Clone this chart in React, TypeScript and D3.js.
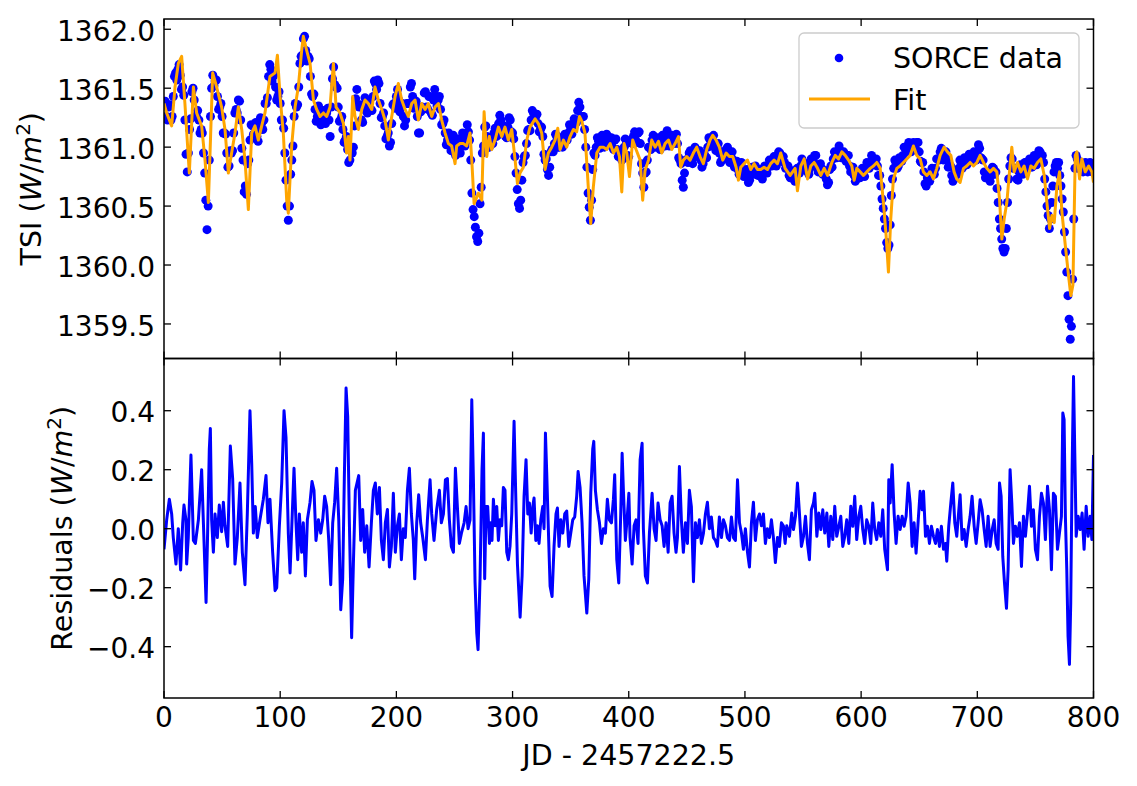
import React from 'react';
import * as d3 from 'd3';

const xTicks = [0, 100, 200, 300, 400, 500, 600, 700, 800];
const tsiTicks = [1359.5, 1360.0, 1360.5, 1361.0, 1361.5, 1362.0];
const resTicks = [-0.4, -0.2, 0.0, 0.2, 0.4];

// SORCE daily TSI (day, W/m^2) — even days / dips
const tsiData: [number, number][] = [
  [0,1361.37],[2,1361.26],[4,1361.34],[6,1361.23],[8,1361.43],[10,1361.63],[12,1361.66],[14,1361.61],[16,1361.51],[18,1361.23],
  [20,1360.79],[21,1360.95],[22,1361.15],[24,1361.47],[26,1361.40],[28,1361.26],[30,1361.23],[32,1361.15],[34,1360.95],[35,1360.78],
  [36,1360.55],[37,1360.30],[38,1360.50],[39,1360.89],[40,1361.26],[42,1361.61],[44,1361.56],[46,1361.43],[48,1361.34],[50,1361.26],
  [52,1361.12],[54,1360.95],[56,1360.84],[58,1360.95],[60,1361.12],[62,1361.32],[64,1361.40],[66,1361.23],[68,1360.89],[70,1360.67],
  [72,1360.86],[74,1361.06],[76,1361.18],[78,1361.18],[80,1361.09],[82,1361.15],[84,1361.20],[86,1361.23],[88,1361.37],[90,1361.60],
  [92,1361.66],[94,1361.60],[96,1361.51],[98,1361.43],[100,1361.37],[102,1361.23],[104,1360.95],[105,1360.72],[106,1360.50],[107,1360.38],
  [108,1360.50],[110,1360.89],[112,1361.26],[114,1361.34],[116,1361.51],[118,1361.77],[120,1361.92],[122,1361.82],[124,1361.77],[126,1361.60],
  [128,1361.43],[130,1361.32],[132,1361.26],[134,1361.29],[136,1361.23],[138,1361.26],[140,1361.29],[142,1361.23],[143,1361.09],[144,1361.34],
  [146,1361.68],[148,1361.51],[150,1361.34],[152,1361.23],[154,1361.15],[156,1361.06],[158,1360.98],[160,1360.89],[162,1360.95],[164,1361.18],
  [166,1361.49],[168,1361.34],[170,1361.23],[172,1361.32],[174,1361.37],[176,1361.34],[178,1361.32],[180,1361.43],[182,1361.54],[184,1361.57],
  [186,1361.37],[188,1361.26],[190,1361.18],[192,1361.09],[194,1361.01],[196,1361.20],[198,1361.37],[200,1361.43],[202,1361.40],[204,1361.34],
  [206,1361.26],[208,1361.23],[210,1361.37],[212,1361.51],[214,1361.43],[216,1361.37],[218,1361.26],[220,1361.12],[222,1361.34],[224,1361.46],
  [226,1361.34],[228,1361.43],[230,1361.29],[232,1361.40],[234,1361.43],[236,1361.40],[238,1361.32],[240,1361.20],[242,1361.12],[244,1361.06],
  [246,1361.03],[248,1361.06],[250,1361.01],[252,1360.98],[254,1361.01],[256,1361.03],[258,1361.06],[260,1361.10],[262,1361.13],[263,1361.06],
  [264,1360.89],[265,1360.61],[266,1360.47],[267,1360.41],[268,1360.32],[269,1360.24],[270,1360.20],[271,1360.27],[272,1360.52],[273,1360.66],
  [274,1360.95],[276,1361.17],[278,1361.09],[280,1361.00],[282,1361.03],[284,1361.12],[286,1361.09],[288,1361.20],[290,1361.23],[292,1361.17],
  [294,1361.09],[296,1361.17],[298,1361.23],[300,1361.12],[302,1360.92],[303,1360.78],[304,1360.64],[305,1360.52],[306,1360.48],[307,1360.55],
  [308,1360.72],[310,1360.92],[312,1361.03],[314,1361.15],[316,1361.23],[318,1361.29],[320,1361.26],[322,1361.20],[324,1361.15],[326,1361.09],
  [328,1360.89],[330,1360.81],[331,1360.76],[332,1360.83],[334,1360.98],[336,1361.03],[338,1361.09],[340,1361.00],[342,1361.06],[344,1361.03],
  [346,1361.09],[348,1361.12],[350,1361.15],[352,1361.17],[354,1361.20],[356,1361.31],[358,1361.34],[360,1361.26],[362,1361.15],[363,1361.00],
  [364,1360.83],[365,1360.61],[366,1360.49],[367,1360.38],[368,1360.55],[369,1360.81],[370,1360.95],[372,1361.00],[374,1361.05],[376,1361.03],
  [378,1361.06],[380,1361.03],[382,1361.09],[384,1361.06],[386,1361.00],[388,1361.06],[390,1360.98],[392,1360.95],[394,1360.89],[396,1361.00],
  [398,1361.03],[400,1360.92],[402,1361.06],[404,1361.09],[406,1361.06],[408,1361.12],[410,1361.03],[412,1360.78],[413,1360.66],[414,1360.78],
  [416,1360.89],[418,1361.00],[420,1361.06],[422,1361.03],[424,1361.06],[426,1361.00],[428,1361.06],[430,1361.03],[432,1361.09],[434,1361.09],
  [436,1361.03],[438,1361.06],[440,1361.09],[442,1361.03],[444,1360.89],[446,1360.72],[447,1360.66],[448,1360.78],[450,1360.89],[452,1360.95],
  [454,1360.89],[456,1360.92],[458,1360.98],[460,1360.95],[462,1360.89],[464,1360.86],[466,1360.92],[468,1361.00],[470,1361.06],[472,1361.06],
  [474,1361.03],[476,1361.00],[478,1360.95],[480,1360.89],[482,1360.92],[484,1360.98],[486,1360.92],[488,1360.92],[490,1360.89],[492,1360.86],
  [494,1360.81],[496,1360.83],[498,1360.81],[500,1360.78],[502,1360.75],[504,1360.72],[506,1360.83],[508,1360.78],[510,1360.81],[512,1360.78],
  [514,1360.75],[516,1360.78],[518,1360.81],[520,1360.83],[522,1360.86],[524,1360.89],[526,1360.86],[528,1360.89],[530,1360.95],[532,1360.89],
  [534,1360.87],[536,1360.84],[538,1360.76],[540,1360.79],[542,1360.73],[544,1360.76],[546,1360.79],[548,1360.84],[550,1360.87],[552,1360.84],
  [554,1360.79],[556,1360.82],[558,1360.90],[560,1360.93],[562,1360.84],[564,1360.82],[566,1360.82],[568,1360.79],[570,1360.73],[572,1360.70],
  [574,1360.84],[576,1360.90],[578,1360.93],[580,1360.96],[582,1360.97],[584,1360.93],[586,1360.90],[588,1360.93],[590,1360.84],[592,1360.82],
  [594,1360.76],[596,1360.73],[598,1360.76],[600,1360.79],[602,1360.76],[604,1360.82],[606,1360.84],[608,1360.87],[610,1360.90],[612,1360.87],
  [614,1360.84],[616,1360.76],[617,1360.67],[618,1360.56],[619,1360.48],[620,1360.39],[621,1360.31],[622,1360.19],[623,1360.14],[624,1360.17],
  [625,1360.34],[626,1360.59],[627,1360.73],[628,1360.82],[630,1360.87],[632,1360.84],[634,1360.90],[636,1360.93],[638,1360.99],[640,1361.01],
  [642,1360.99],[644,1361.01],[646,1360.99],[648,1361.04],[650,1360.96],[652,1360.87],[654,1360.79],[656,1360.67],[658,1360.73],[660,1360.76],
  [662,1360.79],[664,1360.82],[666,1360.90],[668,1360.96],[670,1360.93],[672,1360.93],[674,1360.90],[676,1360.84],[678,1360.76],[680,1360.73],
  [682,1360.79],[684,1360.82],[686,1360.87],[688,1360.84],[690,1360.90],[692,1360.87],[694,1360.93],[696,1360.93],[698,1360.90],[700,1360.96],
  [702,1360.99],[704,1360.90],[706,1360.79],[708,1360.76],[710,1360.73],[712,1360.76],[714,1360.82],[716,1360.79],[717,1360.65],[718,1360.53],
  [719,1360.39],[720,1360.31],[721,1360.22],[722,1360.14],[723,1360.11],[724,1360.14],[725,1360.31],[726,1360.53],[727,1360.73],[728,1360.84],
  [730,1360.90],[732,1360.82],[734,1360.73],[736,1360.79],[738,1360.82],[740,1360.79],[742,1360.87],[744,1360.87],[746,1360.84],[748,1360.90],
  [750,1360.87],[752,1360.90],[754,1360.96],[756,1360.93],[758,1360.73],[759,1360.62],[760,1360.50],[761,1360.42],[762,1360.31],[763,1360.39],
  [764,1360.53],[765,1360.67],[766,1360.79],[767,1360.84],[768,1360.87],[769,1360.82],[770,1360.87],[771,1360.76],[772,1360.67],[773,1360.56],
  [774,1360.45],[775,1360.28],[776,1360.11],[777,1359.94],[778,1359.74],[779,1359.54],[780,1359.37],[781,1359.48],[782,1359.88],[783,1360.39],
  [784,1360.82],[785,1360.93],[786,1360.90],[788,1360.82],[790,1360.84],[792,1360.82],[794,1360.84],[796,1360.82],[798,1360.84],[800,1360.82]
];

// SORCE daily TSI, remaining (odd) days — the scatter of the band
const tsiDataOdd: [number, number][] = [
  [1,1361.39],[3,1361.23],[5,1361.36],[7,1361.26],[9,1361.60],[11,1361.57],[13,1361.70],[15,1361.49],[17,1361.44],[19,1360.94],
  [23,1361.24],[25,1361.50],[27,1361.26],[29,1361.31],[31,1361.12],[33,1361.12],[41,1361.50],[43,1361.52],[45,1361.57],[47,1361.32],
  [49,1361.37],[51,1361.12],[53,1361.11],[55,1360.83],[57,1360.97],[59,1360.97],[61,1361.29],[63,1361.29],[65,1361.39],[67,1360.99],
  [69,1360.62],[71,1360.60],[73,1360.89],[75,1361.19],[77,1361.11],[79,1361.21],[81,1361.05],[83,1361.25],[85,1361.15],[87,1361.37],
  [89,1361.42],[91,1361.70],[93,1361.56],[95,1361.63],[97,1361.40],[99,1361.47],[101,1361.23],[103,1361.16],[109,1360.77],[111,1361.01],
  [113,1361.37],[115,1361.36],[117,1361.71],[119,1361.78],[121,1361.94],[123,1361.73],[125,1361.75],[127,1361.45],[129,1361.45],[131,1361.22],
  [133,1361.35],[135,1361.19],[137,1361.31],[139,1361.20],[141,1361.33],[145,1361.58],[147,1361.53],[149,1361.50],[151,1361.22],[153,1361.26],
  [155,1361.04],[157,1361.09],[159,1360.87],[161,1360.99],[163,1361.00],[165,1361.41],[167,1361.35],[169,1361.36],[171,1361.21],[173,1361.42],
  [175,1361.29],[177,1361.40],[179,1361.31],[181,1361.56],[183,1361.49],[185,1361.54],[187,1361.25],[189,1361.29],[191,1361.07],[193,1361.12],
  [195,1361.04],[197,1361.36],[199,1361.33],[201,1361.49],[203,1361.30],[205,1361.37],[207,1361.18],[209,1361.37],[211,1361.37],[213,1361.54],
  [215,1361.33],[217,1361.39],[219,1361.12],[221,1361.30],[223,1361.33],[225,1361.47],[227,1361.32],[229,1361.43],[231,1361.27],[233,1361.49],
  [235,1361.35],[237,1361.43],[239,1361.19],[241,1361.23],[243,1361.02],[245,1361.12],[247,1360.97],[249,1361.10],[251,1360.93],[253,1361.07],
  [255,1360.95],[257,1361.12],[259,1361.01],[261,1361.19],[275,1361.01],[277,1361.18],[279,1361.00],[281,1361.07],[283,1361.03],[285,1361.16],
  [287,1361.10],[289,1361.27],[291,1361.15],[293,1361.18],[295,1361.08],[297,1361.25],[299,1361.13],[301,1361.07],[309,1360.87],[311,1360.93],
  [313,1361.14],[315,1361.14],[317,1361.31],[319,1361.23],[321,1361.28],[323,1361.13],[325,1361.17],[327,1360.94],[329,1360.90],[333,1360.96],
  [335,1360.96],[337,1361.11],[339,1361.00],[341,1361.08],[343,1361.00],[345,1361.11],[347,1361.06],[349,1361.19],[351,1361.11],[353,1361.24],
  [355,1361.21],[357,1361.38],[359,1361.25],[361,1361.26],[371,1360.93],[373,1361.08],[375,1360.99],[377,1361.10],[379,1361.00],[381,1361.11],
  [383,1361.03],[385,1361.08],[387,1360.98],[389,1361.07],[391,1360.92],[393,1360.97],[395,1360.90],[397,1361.07],[399,1360.93],[401,1361.04],
  [403,1361.03],[405,1361.13],[407,1361.04],[409,1361.13],[411,1360.86],[415,1360.79],[417,1361.00],[419,1360.98],[421,1361.10],[423,1361.00],
  [425,1361.08],[427,1360.98],[429,1361.10],[431,1361.01],[433,1361.14],[435,1361.01],[437,1361.10],[439,1361.03],[441,1361.11],[443,1360.91],
  [445,1360.86],[449,1360.89],[451,1360.87],[453,1360.97],[455,1360.86],[457,1361.00],[459,1360.92],[461,1360.97],[463,1360.83],[465,1360.94],
  [467,1360.91],[469,1361.08],[471,1361.01],[473,1361.10],[475,1360.97],[477,1361.03],[479,1360.87],[481,1360.96],[483,1360.90],[485,1361.00],
  [487,1360.87],[489,1360.96],[491,1360.83],[493,1360.88],[495,1360.77],[497,1360.87],[499,1360.75],[501,1360.81],[503,1360.70],[505,1360.82],
  [507,1360.77],[509,1360.84],[511,1360.76],[513,1360.81],[515,1360.73],[517,1360.84],[519,1360.78],[521,1360.89],[523,1360.84],[525,1360.92],
  [527,1360.84],[529,1360.96],[531,1360.88],[533,1360.92],[535,1360.82],[537,1360.84],[539,1360.74],[541,1360.80],[543,1360.71],[545,1360.82],
  [547,1360.78],[549,1360.90],[551,1360.82],[553,1360.86],[555,1360.77],[557,1360.90],[559,1360.88],[561,1360.93],[563,1360.79],[565,1360.86],
  [567,1360.77],[569,1360.80],[571,1360.68],[573,1360.81],[575,1360.83],[577,1360.96],[579,1360.91],[581,1361.01],[583,1360.91],[585,1360.96],
  [587,1360.88],[589,1360.93],[591,1360.79],[593,1360.83],[595,1360.71],[597,1360.78],[599,1360.74],[601,1360.82],[603,1360.75],[605,1360.87],
  [607,1360.82],[609,1360.93],[611,1360.85],[613,1360.90],[615,1360.76],[629,1360.89],[631,1360.82],[633,1360.91],[635,1360.88],[637,1361.00],
  [639,1360.96],[641,1361.04],[643,1360.96],[645,1361.04],[647,1360.98],[649,1361.04],[651,1360.88],[653,1360.87],[655,1360.69],[657,1360.74],
  [659,1360.71],[661,1360.82],[663,1360.77],[665,1360.90],[667,1360.89],[669,1360.99],[671,1360.89],[673,1360.96],[675,1360.83],[677,1360.84],
  [679,1360.71],[681,1360.80],[683,1360.77],[685,1360.89],[687,1360.82],[689,1360.91],[691,1360.85],[693,1360.94],[695,1360.89],[697,1360.96],
  [699,1360.89],[701,1361.02],[703,1360.91],[705,1360.89],[707,1360.74],[709,1360.79],[711,1360.71],[713,1360.83],[715,1360.77],[729,1360.91],
  [731,1360.82],[733,1360.82],[735,1360.72],[737,1360.85],[739,1360.77],[741,1360.87],[743,1360.83],[745,1360.90],[747,1360.83],[749,1360.93],
  [751,1360.85],[753,1360.97],[755,1360.91],[757,1360.87],[787,1360.82],[789,1360.87],[791,1360.79],[793,1360.87],[795,1360.79],[797,1360.87],
  [799,1360.79]
];

// Model fit (day, W/m^2)
const fitCurve: [number, number][] = [
  [0,1361.37],[2.3,1361.29],[6.6,1361.18],[9.5,1361.51],[12.3,1361.71],[15.2,1361.77],[18,1361.37],[21.8,1360.78],[25.3,1361.51],[28.1,1361.29],
  [32.4,1361.18],[35.3,1360.89],[38.2,1360.53],[41.9,1361.63],[45.3,1361.51],[49.6,1361.34],[52.5,1361.15],[55.4,1360.78],[58.2,1360.95],[61.1,1361.12],
  [64,1361.34],[66.9,1361.15],[69.7,1360.89],[72.6,1360.47],[75.5,1361.12],[78.3,1361.18],[81.2,1361.06],[84.1,1361.18],[86.9,1361.29],[91.2,1361.6],
  [95.6,1361.63],[97.6,1361.78],[99.9,1361.43],[102.7,1361.12],[105.6,1360.55],[107,1360.44],[109.9,1361.01],[112.8,1361.34],[115.6,1361.51],[118.5,1361.82],
  [119.9,1361.94],[122.8,1361.82],[125.7,1361.71],[128.6,1361.4],[131.4,1361.32],[134.3,1361.26],[137.2,1361.29],[140,1361.26],[142.9,1361.34],[145.8,1361.71],
  [148.1,1361.34],[151.5,1361.29],[154.4,1361.2],[157.2,1360.95],[158.7,1361.09],[160.1,1360.89],[162.4,1361.43],[164.4,1361.26],[167.3,1361.15],[170.2,1361.32],
  [173,1361.4],[175.9,1361.37],[178.8,1361.32],[181.6,1361.51],[184.5,1361.4],[187.4,1361.32],[190.2,1361.23],[193.1,1361.06],[196,1361.26],[198.9,1361.43],
  [201.7,1361.54],[204.6,1361.4],[207.5,1361.32],[210.3,1361.26],[213.2,1361.37],[216.1,1361.4],[218.9,1361.23],[221.8,1361.37],[224.7,1361.32],[227.5,1361.37],
  [230.4,1361.26],[233.3,1361.34],[236.2,1361.37],[239,1361.23],[241.9,1361.12],[244.8,1361.03],[247.6,1361.01],[250.5,1360.86],[251.9,1361.01],[254.8,1361.03],
  [257.7,1361.03],[260.5,1361.01],[263.4,1361.12],[264.9,1360.89],[266.9,1360.52],[270.6,1360.61],[273.5,1360.55],[275.5,1361.3],[277.8,1360.92],[280,1361.09],
  [282,1360.98],[284.9,1361.06],[287.8,1361.17],[290.7,1361.09],[293.5,1361.17],[296.4,1361.06],[299.3,1361.15],[302.2,1360.89],[304.2,1360.69],[306.4,1360.78],
  [309.3,1360.83],[312.2,1361.06],[315,1361.17],[319.4,1361.24],[322.2,1361.2],[325.1,1361.12],[328,1360.81],[330.8,1360.95],[333.7,1361.0],[336.6,1361.06],
  [338.9,1361.16],[340.9,1360.98],[343.8,1361.06],[346.6,1361.0],[349.5,1361.09],[352.4,1361.15],[355.2,1361.13],[357.6,1361.26],[359.6,1361.22],[362.3,1361.12],
  [365.3,1360.64],[367.3,1360.35],[369.5,1360.66],[372.5,1360.95],[375.3,1361.0],[378.2,1361.0],[381,1360.98],[384,1361.03],[386.9,1360.95],[389.7,1361.0],
  [392,1360.92],[394,1360.62],[396,1361.03],[398.3,1360.95],[400.6,1360.75],[403.4,1361.06],[406.3,1360.98],[409.8,1360.89],[412,1360.55],[414,1360.8],
  [417,1360.89],[419.8,1361.06],[422.7,1361.0],[425.6,1361.05],[428.4,1360.95],[431.3,1361.03],[434.2,1361.06],[437,1360.98],[439.9,1361.03],[442.8,1361.09],
  [444.7,1360.83],[447,1360.89],[449.9,1360.92],[452.8,1360.89],[455.6,1360.95],[458.5,1361.0],[461.4,1360.92],[464.2,1360.86],[467.1,1360.98],[470,1361.06],
  [472.3,1361.1],[475.2,1361.06],[478,1361.0],[480.9,1360.89],[483.8,1360.95],[486.6,1360.92],[489.5,1360.92],[492.4,1360.83],[494.4,1360.72],[496.4,1360.83],
  [499.3,1360.86],[502.2,1360.89],[505,1360.81],[507.9,1360.86],[510.8,1360.81],[513.6,1360.81],[516.5,1360.83],[519.4,1360.81],[522.2,1360.86],[525.1,1360.89],
  [528,1360.86],[530.8,1360.95],[534.6,1360.82],[538.9,1360.76],[543.2,1360.82],[545.2,1360.63],[548.1,1360.84],[551,1360.9],[553.9,1360.73],[556.7,1360.84],
  [559.6,1360.87],[562.5,1360.82],[565.3,1360.76],[568.2,1360.82],[571.1,1360.76],[574.8,1360.87],[577.7,1360.93],[580.6,1360.9],[583.4,1360.96],[586.3,1360.93],
  [589.2,1360.89],[592,1360.84],[594,1360.72],[596.3,1360.82],[599.2,1360.79],[602,1360.76],[604.9,1360.79],[607.8,1360.82],[610.6,1360.84],[613.5,1360.87],
  [616.4,1360.82],[619.2,1360.53],[621.5,1360.25],[623.5,1359.94],[625.5,1360.39],[627.8,1360.73],[630.7,1360.82],[633.5,1360.84],[636.4,1360.87],[639.3,1360.9],
  [642.2,1360.93],[645,1361.01],[647.9,1360.93],[650.8,1360.9],[653.6,1360.79],[656.5,1360.76],[659.4,1360.79],[662.2,1360.73],[665.1,1360.82],[668,1360.93],
  [671.4,1361.0],[674.3,1360.96],[677.2,1360.93],[680,1360.79],[682.3,1360.73],[685.2,1360.7],[688.1,1360.82],[690.9,1360.84],[693.8,1360.87],[696.7,1360.84],
  [699.6,1360.87],[702.4,1360.93],[705.3,1360.87],[708.2,1360.82],[711,1360.79],[713.9,1360.82],[716.8,1360.79],[719.1,1360.56],[721.1,1360.22],[723.1,1360.39],
  [725.4,1360.53],[727.7,1360.79],[729.7,1361.0],[731.7,1360.79],[734.6,1360.87],[737.5,1360.79],[740.3,1360.84],[743.2,1360.73],[746.1,1360.84],[748.9,1360.82],
  [751.8,1360.87],[754.7,1360.9],[757.6,1360.76],[759.9,1360.53],[762.2,1360.31],[764.2,1360.42],[766.2,1360.36],[768.5,1360.67],[770.8,1360.79],[772.8,1360.45],
  [775.7,1360.17],[778.5,1359.91],[780.5,1359.74],[782.3,1359.83],[784.3,1360.93],[785.7,1360.96],[788,1360.73],[790,1360.9],[792.9,1360.79],[795.8,1360.84],
  [798.6,1360.79],[800,1360.7]
];

// Residuals (day, W/m^2)
const residuals: [number, number][] = [
  [0,-0.07],[2.3,0.03],[4.6,0.10],[6.6,0.05],[8.0,-0.03],[10.3,-0.12],[12.3,0.0],[14.3,-0.14],[16.1,0.02],[17.2,0.08],
  [18.9,0.03],[19.5,-0.12],[20.9,-0.03],[23.2,0.25],[25.3,-0.04],[27.0,-0.05],[29.6,0.03],[32.4,0.20],[33.9,0.02],[36.2,-0.25],
  [37.3,-0.06],[39.0,0.27],[39.9,0.34],[41.0,0.03],[42.5,-0.08],[43.9,0.05],[45.9,-0.03],[47.6,0.08],[49.6,-0.01],[51.1,0.09],
  [52.5,0.01],[54.8,-0.06],[57.1,0.28],[59.1,0.17],[61.1,-0.12],[63.1,-0.03],[65.4,0.155],[67.4,-0.08],[69.7,-0.19],[71.7,0.05],
  [74.0,0.40],[75.5,0.22],[76.9,-0.015],[78.6,0.075],[80.3,-0.03],[82.6,0.03],[85.5,0.10],[87.8,0.18],[89.5,0.02],[91.2,0.10],
  [93.5,-0.08],[95.6,-0.21],[97.0,-0.20],[99.3,0.01],[101.3,0.155],[103.3,0.40],[105.0,0.31],[107.0,-0.015],[108.5,-0.15],[110.2,0.03],
  [111.9,0.205],[113.6,0.02],[115.1,-0.105],[116.5,0.05],[118.5,-0.08],[119.9,0.02],[121.7,-0.16],[123.4,0.03],[125.7,0.09],[127.4,0.16],
  [129.1,0.13],[130.8,-0.04],[132.9,0.03],[134.9,-0.015],[136.6,0.03],[138.3,0.11],[140.0,0.075],[141.8,-0.04],[143.5,-0.19],[145.2,0.02],
  [146.9,0.09],[148.6,0.205],[150.4,0.03],[152.1,-0.275],[153.8,-0.17],[155.2,0.17],[156.7,0.477],[158.1,0.38],[159.5,0.03],[161.5,-0.37],
  [163.0,-0.12],[164.7,0.13],[167.6,0.18],[169.3,-0.04],[171.0,0.065],[172.7,-0.08],[174.5,0.01],[176.5,-0.13],[178.5,0.02],[180.2,0.13],
  [181.9,0.155],[183.6,0.05],[185.4,0.14],[187.1,-0.04],[188.8,-0.105],[190.5,0.02],[192.3,0.065],[194.0,-0.13],[195.7,-0.06],[197.4,0.12],
  [199.1,-0.08],[200.9,0.01],[202.6,0.05],[204.3,-0.105],[206.0,0.0],[207.7,-0.03],[209.5,0.13],[211.2,0.205],[212.9,0.05],[214.6,-0.04],
  [215.8,-0.17],[217.5,0.02],[219.2,0.115],[220.9,0.02],[222.7,-0.03],[225.0,-0.105],[226.7,0.03],[229.0,0.166],[230.4,0.05],[232.4,-0.04],
  [234.7,0.065],[237.0,0.13],[238.7,0.02],[240.5,0.05],[242.2,0.166],[243.9,0.17],[245.6,0.03],[247.3,-0.06],[249.1,-0.08],[250.8,0.205],
  [252.5,0.075],[254.2,-0.05],[256.0,-0.015],[258.3,0.02],[260.0,0.075],[261.7,0.0],[263.4,0.03],[264.9,0.437],[266.3,0.166],[267.7,-0.18],
  [269.2,-0.354],[270.3,-0.41],[272.0,-0.17],[273.7,0.20],[274.9,0.324],[276.0,-0.17],[277.2,0.075],[278.6,0.075],[280.1,-0.05],[281.2,0.02],
  [282.3,-0.04],[283.5,0.10],[284.9,0.01],[286.4,0.075],[287.8,-0.04],[289.2,0.03],[290.7,0.01],[292.1,0.14],[293.5,0.13],[295.0,-0.08],
  [296.4,-0.105],[297.8,-0.06],[299.3,0.05],[301.3,0.364],[302.7,0.12],[304.2,-0.12],[306.5,-0.30],[308.2,-0.16],[309.9,0.11],[311.6,0.234],
  [313.1,0.05],[314.5,0.087],[316.0,-0.015],[317.4,0.075],[318.5,0.104],[320.0,-0.04],[321.4,0.01],[322.8,-0.05],[324.3,0.03],[326.0,0.075],
  [327.1,0.0],[328.3,0.324],[329.4,0.19],[331.1,-0.04],[332.3,-0.195],[334.0,-0.23],[335.7,-0.06],[337.4,0.05],[338.6,0.07],[340.0,-0.06],
  [341.5,0.03],[343.2,-0.015],[344.9,0.05],[346.6,0.06],[348.4,-0.06],[350.1,-0.015],[351.8,0.03],[353.5,0.04],[355.2,0.11],[356.4,0.194],
  [358.1,0.14],[359.8,0.02],[361.5,-0.16],[363.9,-0.286],[365.6,-0.17],[367.3,0.12],[369.0,0.27],[369.9,0.296],[371.3,0.13],[373.0,0.065],
  [374.8,0.02],[376.5,-0.05],[378.2,0.0],[379.9,-0.015],[381.6,0.10],[383.3,0.03],[385.1,0.02],[386.8,0.10],[387.9,0.183],[389.7,-0.105],
  [391.4,-0.184],[393.1,0.05],[394.3,0.256],[395.4,0.13],[397.1,-0.04],[398.9,0.05],[400.1,0.12],[401.1,-0.03],[402.9,-0.12],[404.6,0.01],
  [406.3,0.03],[408.0,-0.05],[409.8,0.234],[411.5,0.29],[412.6,0.0],[414.3,-0.16],[416.1,-0.184],[417.8,-0.015],[420.1,0.12],[421.8,0.0],
  [423.5,-0.04],[425.2,0.087],[427.0,0.03],[428.7,0.01],[430.4,-0.06],[432.1,0.02],[433.9,-0.08],[435.6,0.087],[437.3,0.11],[439.0,-0.015],
  [440.7,-0.08],[441.9,-0.03],[443.6,0.211],[445.3,0.03],[447.0,-0.08],[448.8,0.02],[450.5,-0.05],[452.2,0.13],[453.9,0.075],[455.7,-0.18],
  [457.4,0.02],[459.1,-0.03],[460.8,0.03],[462.5,-0.05],[464.3,-0.015],[466.0,0.05],[467.7,0.09],[469.4,0.0],[471.1,0.04],[472.9,-0.03],
  [474.6,-0.04],[476.3,-0.06],[478.0,0.04],[479.8,-0.03],[481.5,0.03],[483.2,0.01],[484.9,-0.03],[486.7,-0.04],[488.4,0.04],[490.1,-0.03],
  [491.8,-0.04],[493.6,0.166],[495.3,0.02],[497.0,-0.015],[498.7,-0.07],[500.4,0.0],[502.2,-0.08],[503.9,-0.13],[505.6,0.02],[507.3,0.09],
  [509.0,-0.04],[510.7,0.03],[512.5,0.05],[514.2,0.01],[515.9,0.05],[517.6,-0.05],[519.3,0.0],[521.1,-0.03],[522.8,0.03],[524.5,-0.03],
  [526.2,-0.115],[528.0,-0.03],[529.7,-0.06],[531.4,0.02],[533.1,0.01],[534.6,-0.05],[536.0,0.01],[538.3,-0.026],[540.3,0.053],[541.8,-0.003],
  [543.5,0.042],[545.2,0.155],[546.9,0.053],[548.6,-0.06],[550.4,-0.026],[552.1,0.042],[553.8,-0.05],[555.5,-0.105],[557.2,0.064],[559.0,0.087],
  [560.1,0.12],[561.9,-0.026],[563.6,0.053],[565.3,-0.003],[567.0,0.064],[568.7,-0.015],[570.5,0.053],[572.2,-0.06],[573.9,0.042],[575.6,-0.037],
  [577.3,0.076],[579.0,-0.026],[580.8,0.008],[582.5,0.042],[584.2,-0.06],[585.9,-0.026],[587.6,0.03],[589.4,-0.05],[591.1,0.076],[592.8,0.008],
  [594.5,0.11],[596.2,-0.037],[598.0,0.042],[599.7,0.076],[601.4,-0.003],[603.1,-0.05],[604.8,0.03],[606.6,0.008],[608.3,-0.05],[610.0,0.087],
  [611.7,-0.003],[613.4,-0.037],[615.2,0.02],[616.9,-0.026],[618.6,0.064],[620.3,-0.07],[622.7,-0.139],[623.8,0.166],[625.0,0.087],[626.7,0.217],
  [628.4,0.053],[630.1,-0.05],[631.8,0.042],[633.6,-0.003],[635.3,0.042],[637.0,0.008],[638.7,0.042],[640.5,0.155],[642.2,0.087],[643.9,-0.06],
  [645.6,0.02],[647.3,-0.083],[649.0,0.02],[650.8,0.127],[652.5,0.064],[653.7,0.127],[655.4,-0.026],[657.1,0.008],[658.8,-0.05],[660.5,0.008],
  [662.3,-0.026],[664.0,-0.05],[665.7,-0.003],[667.4,-0.06],[669.1,0.008],[670.9,-0.07],[672.6,-0.05],[673.7,-0.11],[675.4,0.008],[677.2,0.087],
  [678.9,0.155],[680.6,0.02],[682.3,-0.026],[684.1,0.064],[685.2,0.115],[686.9,-0.037],[688.7,-0.003],[690.4,-0.06],[692.1,-0.003],[693.8,0.042],
  [695.5,0.11],[697.3,0.008],[699.0,-0.05],[700.7,0.02],[702.4,0.098],[704.1,0.064],[705.9,-0.003],[707.6,-0.06],[709.3,0.042],[711.0,-0.06],
  [712.8,-0.003],[714.5,0.03],[716.2,-0.05],[717.9,-0.07],[719.1,0.155],[720.5,0.11],[721.9,-0.094],[723.4,-0.184],[725.1,-0.27],[726.5,-0.139],
  [728.2,0.20],[729.7,0.087],[731.1,-0.05],[732.8,0.008],[734.5,-0.026],[736.3,0.02],[738.0,-0.128],[739.7,0.042],[741.4,-0.026],[743.2,0.053],
  [744.9,0.144],[746.6,0.008],[748.3,0.064],[750.0,-0.07],[751.8,-0.105],[753.5,0.042],[755.2,0.12],[756.9,0.087],[758.6,-0.037],[760.4,0.144],
  [762.1,0.064],[763.8,-0.139],[765.5,0.12],[767.2,0.11],[769.0,-0.07],[770.7,-0.015],[772.4,0.042],[773.6,0.392],[774.7,0.37],[775.8,0.042],
  [777.0,-0.139],[778.1,-0.365],[779.3,-0.46],[780.4,-0.252],[781.6,0.20],[782.8,0.516],[783.9,0.256],[785.1,-0.026],[786.8,0.042],[788.5,-0.003],
  [790.2,0.053],[791.9,-0.07],[793.7,0.076],[795.4,-0.026],[797.1,0.042],[798.6,-0.037],[800.0,0.25]
];

const FONT = '"DejaVu Sans", Verdana, sans-serif';
const BLUE = '#0000ff';
const ORANGE = '#ffa500';

export default function App() {
  const W = 1137, H = 786;
  const left = 164, right = 1093.5, top = 19, mid = 358.5, bottom = 698;
  const tickLen = 7;

  const x = d3.scaleLinear().domain([0, 800]).range([left, right]);
  const yTop = d3.scaleLinear().domain([1359.207, 1362.087]).range([mid, top]);
  const yBot = d3.scaleLinear().domain([-0.574, 0.577]).range([bottom, mid]);

  const fitPath = d3.line<[number, number]>().x(d => x(d[0])).y(d => yTop(d[1]))(fitCurve) || '';
  const resPath = d3.line<[number, number]>().x(d => x(d[0])).y(d => yBot(d[1]))(residuals) || '';
  const allDots = tsiData.concat(tsiDataOdd);

  const fmt1 = d3.format('.1f');
  const fmtRes = (v: number) => {
    const s = d3.format('.1f')(Math.abs(v));
    return v < 0 ? '\u2212' + s : s;
  };

  const panelTicks = (y0: number, y1: number, ys: number[], ysc: (v: number) => number, key: string) => (
    <g key={key} stroke="#000" strokeWidth={1.3}>
      {xTicks.map(t => (
        <g key={'x' + t}>
          <line x1={x(t)} x2={x(t)} y1={y1} y2={y1 - tickLen} />
          <line x1={x(t)} x2={x(t)} y1={y0} y2={y0 + tickLen} />
        </g>
      ))}
      {ys.map(t => (
        <g key={'y' + t}>
          <line x1={left} x2={left + tickLen} y1={ysc(t)} y2={ysc(t)} />
          <line x1={right} x2={right - tickLen} y1={ysc(t)} y2={ysc(t)} />
        </g>
      ))}
    </g>
  );

  return (
    <svg width={W} height={H} style={{ position: 'absolute', left: 0, top: 0, background: '#fff' }} fontFamily={FONT}>
      <defs>
        <clipPath id="clipTop"><rect x={left} y={top} width={right - left} height={mid - top} /></clipPath>
        <clipPath id="clipBot"><rect x={left} y={mid} width={right - left} height={bottom - mid} /></clipPath>
      </defs>
      <rect x={0} y={0} width={W} height={H} fill="#fff" />

      {/* Top panel */}
      <g clipPath="url(#clipTop)">
        {allDots.map((d, i) => (
          <circle key={i} cx={x(d[0])} cy={yTop(d[1])} r={4.5} fill={BLUE} />
        ))}
        <path d={fitPath} fill="none" stroke={ORANGE} strokeWidth={3} strokeLinejoin="round" strokeLinecap="butt" />
      </g>

      {/* Bottom panel */}
      <g clipPath="url(#clipBot)">
        <path d={resPath} fill="none" stroke={BLUE} strokeWidth={3} strokeLinejoin="round" />
      </g>

      {panelTicks(top, mid, tsiTicks, yTop, 'tt')}
      {panelTicks(mid, bottom, resTicks, yBot, 'bt')}

      <rect x={left} y={top} width={right - left} height={mid - top} fill="none" stroke="#000" strokeWidth={1.5} />
      <rect x={left} y={mid} width={right - left} height={bottom - mid} fill="none" stroke="#000" strokeWidth={1.5} />

      {/* Tick labels */}
      <g fontSize={28} fill="#000">
        {tsiTicks.map(t => (
          <text key={'tl' + t} x={155} y={yTop(t) + 12} textAnchor="end">{fmt1(t)}</text>
        ))}
        {resTicks.map(t => (
          <text key={'rl' + t} x={155} y={yBot(t) + 11.5} textAnchor="end">{fmtRes(t)}</text>
        ))}
        {xTicks.map(t => (
          <text key={'xl' + t} x={x(t)} y={727} textAnchor="middle">{t}</text>
        ))}
      </g>

      {/* Axis labels */}
      <g fontSize={28.5} fill="#000">
        <text x={(left + right) / 2} y={765} textAnchor="middle">JD - 2457222.5</text>
        <text transform={`translate(41, ${(top + mid) / 2}) rotate(-90)`} textAnchor="middle">
          TSI (<tspan fontStyle="italic">W</tspan>/<tspan fontStyle="italic">m</tspan>
          <tspan fontSize={20} dy={-11}>2</tspan><tspan dy={11}>)</tspan>
        </text>
        <text transform={`translate(72, ${(mid + bottom) / 2}) rotate(-90)`} textAnchor="middle">
          Residuals (<tspan fontStyle="italic">W</tspan>/<tspan fontStyle="italic">m</tspan>
          <tspan fontSize={20} dy={-11}>2</tspan><tspan dy={11}>)</tspan>
        </text>
      </g>

      {/* Legend */}
      <g>
        <rect x={799} y={33} width={280} height={95} rx={5} ry={5} fill="#fff" fillOpacity={0.8} stroke="#cccccc" strokeWidth={1.3} />
        <circle cx={839} cy={58} r={4.3} fill={BLUE} />
        <line x1={809} x2={870} y1={99} y2={99} stroke={ORANGE} strokeWidth={3} />
        <text x={893} y={68} fontSize={28.5} fill="#000">SORCE data</text>
        <text x={893} y={110} fontSize={28.5} fill="#000">Fit</text>
      </g>
    </svg>
  );
}
